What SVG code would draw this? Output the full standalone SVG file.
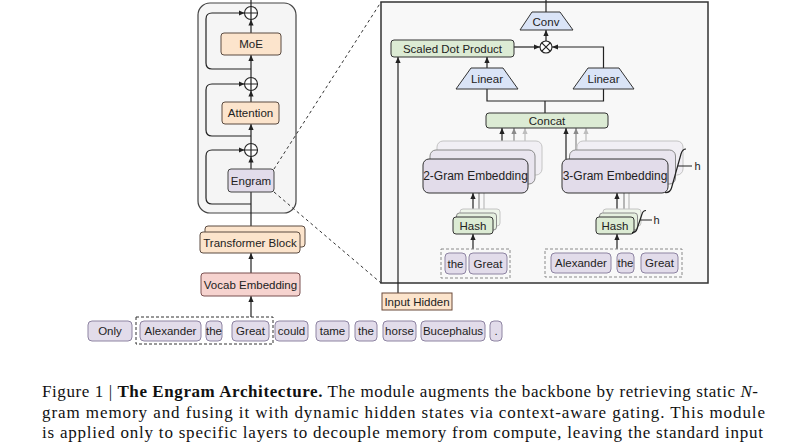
<svg xmlns="http://www.w3.org/2000/svg" width="800" height="445" viewBox="0 0 800 445">
<defs>
<style>
.t{font-family:"Liberation Sans",Arial,sans-serif;font-size:11.5px;fill:#222;text-anchor:middle}
.ln{fill:none;stroke:#222;stroke-width:1.2}
.lg{fill:none;stroke:#8a8a8a;stroke-width:1.2}
.ll{fill:none;stroke:#bdbdbd;stroke-width:1.2}
.org{fill:#fce4cc;stroke:#5a4a40;stroke-width:1}
.pur{fill:#e2dcea;stroke:#444;stroke-width:1}
.tok{fill:#e2dcea;stroke:#8e84a2;stroke-width:1}
.grn{fill:#dcebd4;stroke:#333;stroke-width:1}
.blu{fill:#dae4f7;stroke:#333;stroke-width:1}
.dash{fill:none;stroke:#333;stroke-width:1;stroke-dasharray:3 2}
.cap{font-family:"Liberation Serif","Times New Roman",serif;font-size:17px;fill:#111}
</style>
<marker id="ah" viewBox="0 0 6 6" refX="6" refY="3" markerWidth="6" markerHeight="6" orient="auto" markerUnits="userSpaceOnUse"><path d="M0,0.4 L6,3 L0,5.6 z" fill="#222"/></marker>
<marker id="ahg" viewBox="0 0 6 6" refX="6" refY="3" markerWidth="6" markerHeight="6" orient="auto" markerUnits="userSpaceOnUse"><path d="M0,0.4 L6,3 L0,5.6 z" fill="#8a8a8a"/></marker>
<marker id="ahl" viewBox="0 0 6 6" refX="6" refY="3" markerWidth="6" markerHeight="6" orient="auto" markerUnits="userSpaceOnUse"><path d="M0,0.4 L6,3 L0,5.6 z" fill="#bdbdbd"/></marker>
</defs>
<rect width="800" height="445" fill="#fff"/>

<!-- frames -->
<g id="block-frame"><rect x="198" y="3" width="98" height="210" rx="12" fill="#f5f5f5" stroke="#444" stroke-width="1.2"/></g>
<g id="engram-panel"><rect x="381" y="2" width="327" height="281" fill="#f8f8f8" stroke="#333" stroke-width="1.5"/></g>

<!-- connectors -->
<g id="connectors">
<path class="ln" d="M251 0 L251 6.5"/>
<path class="ln" d="M251 33 L251 19.5" marker-end="url(#ah)"/>
<path class="ln" d="M251 77.5 L251 55" marker-end="url(#ah)"/>
<path class="ln" d="M251 102 L251 90.5" marker-end="url(#ah)"/>
<path class="ln" d="M251 143.5 L251 124" marker-end="url(#ah)"/>
<path class="ln" d="M251 169 L251 156.5" marker-end="url(#ah)"/>
<path class="ln" d="M251 226 L251 192"/>
<path class="ln" d="M251 273 L251 253" marker-end="url(#ah)"/>
<path class="ln" d="M251 317 L251 296" marker-end="url(#ah)"/>
<path class="ln" d="M251 69 L212 69 Q206 69 206 63 L206 19 Q206 13 212 13 L244.5 13" marker-end="url(#ah)"/>
<path class="ln" d="M251 136 L212 136 Q206 136 206 130 L206 90 Q206 84 212 84 L244.5 84" marker-end="url(#ah)"/>
<path class="ln" d="M251 204 L212 204 Q206 204 206 198 L206 156 Q206 150 212 150 L244.5 150" marker-end="url(#ah)"/>
<path d="M274 169 L381 2 M274 192 L381 283" fill="none" stroke="#333" stroke-width="1" stroke-dasharray="3 3"/>
<!-- right panel -->
<path class="ln" d="M546 12 L546 0"/>
<path class="ln" d="M546 41 L546 30" marker-end="url(#ah)"/>
<path class="ln" d="M514 47 L540 47" marker-end="url(#ah)"/>
<path class="ln" d="M603.5 68 L603.5 47 L552 47" marker-end="url(#ah)"/>
<path class="ln" d="M487 68 L487 57" marker-end="url(#ah)"/>
<path class="ln" d="M487 89 L487 101 L603.5 101 L603.5 89 M545 101 L545 113"/>
<path class="ln" d="M398 293 L398 57" marker-end="url(#ah)"/>
<path class="ln" d="M502 159 L502 128" marker-end="url(#ah)"/>
<path class="lg" d="M514 150 L514 128" marker-end="url(#ahg)"/>
<path class="ll" d="M525 141 L525 128" marker-end="url(#ahl)"/>
<path class="ln" d="M566 159 L566 128" marker-end="url(#ah)"/>
<path class="lg" d="M576 150 L576 128" marker-end="url(#ahg)"/>
<path class="ll" d="M586 141 L586 128" marker-end="url(#ahl)"/>
<path class="lg" d="M479 213 L479 193"/>
<path class="ll" d="M484 209 L484 193"/>
<path class="ln" d="M473 217 L473 193" marker-end="url(#ah)"/>
<path class="lg" d="M624 213 L624 193"/>
<path class="ll" d="M629 209 L629 193"/>
<path class="ln" d="M617 217 L617 193" marker-end="url(#ah)"/>
<path class="ln" d="M473 249 L473 234" marker-end="url(#ah)"/>
<path class="ln" d="M617 249 L617 234" marker-end="url(#ah)"/>
</g>

<!-- left column nodes -->
<g id="add1"><circle cx="251" cy="13" r="6.5" fill="#fff" stroke="#222" stroke-width="1.1"/><path class="ln" d="M244.5 13 H257.5 M251 6.5 V19.5" stroke-width="1"/></g>
<g id="add2"><circle cx="251" cy="84" r="6.5" fill="#fff" stroke="#222" stroke-width="1.1"/><path class="ln" d="M244.5 84 H257.5 M251 77.5 V90.5" stroke-width="1"/></g>
<g id="add3"><circle cx="251" cy="150" r="6.5" fill="#fff" stroke="#222" stroke-width="1.1"/><path class="ln" d="M244.5 150 H257.5 M251 143.5 V156.5" stroke-width="1"/></g>
<g id="moe"><rect class="org" x="221" y="33" width="60" height="22" rx="3"/><text class="t" x="251" y="48">MoE</text></g>
<g id="attention"><rect class="org" x="222" y="102" width="57" height="22" rx="3"/><text class="t" x="250.5" y="117">Attention</text></g>
<g id="engram"><rect class="pur" x="228" y="169" width="46" height="23" rx="3"/><text class="t" x="251" y="184.5">Engram</text></g>
<g id="transformer-block"><rect class="org" x="205" y="226" width="100" height="21" rx="3"/><rect class="org" x="200" y="232" width="100" height="21" rx="3"/><text class="t" x="250" y="246.5">Transformer Block</text></g>
<g id="vocab-embedding"><rect x="201" y="273" width="99" height="23" rx="3" fill="#f6d3cf" stroke="#7a5050"/><text class="t" x="250.5" y="288.5">Vocab Embedding</text></g>

<!-- token row -->
<g id="tokens">
<rect class="dash" x="136" y="317" width="137" height="27"/>
<rect class="tok" x="88" y="321" width="44" height="20" rx="4"/><text class="t" x="110" y="335">Only</text>
<rect class="tok" x="140" y="321" width="61" height="20" rx="4"/><text class="t" x="170.5" y="335">Alexander</text>
<rect class="tok" x="206" y="321" width="16" height="20" rx="4"/><text class="t" x="214" y="335">the</text>
<rect class="tok" x="232" y="321" width="37" height="20" rx="4"/><text class="t" x="250.5" y="335">Great</text>
<rect class="tok" x="275" y="321" width="33" height="20" rx="4"/><text class="t" x="291.5" y="335">could</text>
<rect class="tok" x="316" y="321" width="33" height="20" rx="4"/><text class="t" x="332.5" y="335">tame</text>
<rect class="tok" x="355" y="321" width="22" height="20" rx="4"/><text class="t" x="366" y="335">the</text>
<rect class="tok" x="383" y="321" width="33" height="20" rx="4"/><text class="t" x="399.5" y="335">horse</text>
<rect class="tok" x="421" y="321" width="64" height="20" rx="4"/><text class="t" x="453" y="335">Bucephalus</text>
<rect class="tok" x="490" y="321" width="12" height="20" rx="4"/><text class="t" x="496" y="335">.</text>
</g>

<!-- right panel nodes -->
<g id="conv"><polygon class="blu" points="532,12 560,12 573,30 520,30"/><text class="t" x="546" y="25.5">Conv</text></g>
<g id="gate"><circle cx="546" cy="47" r="6" fill="#fff" stroke="#222" stroke-width="1.1"/><path class="ln" d="M541.8 42.8 L550.2 51.2 M550.2 42.8 L541.8 51.2" stroke-width="1"/></g>
<g id="scaled-dot-product"><rect class="grn" x="391" y="40" width="123" height="17" rx="3"/><text class="t" x="452.5" y="52.5">Scaled Dot Product</text></g>
<g id="linear-left"><polygon class="blu" points="471,68 503,68 518,89 456,89"/><text class="t" x="487" y="82.5">Linear</text></g>
<g id="linear-right"><polygon class="blu" points="588,68 619,68 634,89 573,89"/><text class="t" x="603.5" y="82.5">Linear</text></g>
<g id="concat"><rect class="grn" x="486" y="113" width="122" height="15" rx="3"/><text class="t" x="547" y="124.5">Concat</text></g>

<g id="embedding-2gram">
<rect x="437" y="141" width="105" height="34" rx="6" fill="#f1eff4" stroke="#c4c4c4"/>
<rect x="430" y="150" width="105" height="34" rx="6" fill="#e9e5ef" stroke="#8a8a8a"/>
<rect x="423" y="159" width="105" height="34" rx="6" fill="#e2dcea" stroke="#333"/>
<text class="t" x="475.5" y="180" style="font-size:12px">2-Gram Embedding</text>
</g>
<g id="embedding-3gram">
<rect x="577" y="141" width="106" height="34" rx="6" fill="#f1eff4" stroke="#c4c4c4"/>
<rect x="569.5" y="150" width="106" height="34" rx="6" fill="#e9e5ef" stroke="#8a8a8a"/>
<rect x="562" y="159" width="106" height="34" rx="6" fill="#e2dcea" stroke="#333"/>
<text class="t" x="615" y="180" style="font-size:12px">3-Gram Embedding</text>
<path class="ln" d="M665 192.5 Q670 193 671.5 188 L681 154 Q682.5 149 686 149 M677.5 166 L692 166" stroke-width="1"/>
<text class="t" x="697.5" y="169.5" style="font-size:11px">h</text>
</g>
<g id="hash-2gram">
<rect x="460" y="209" width="40" height="17" rx="3" fill="#eef5ea" stroke="#c4c4c4"/>
<rect x="456.5" y="213" width="40" height="17" rx="3" fill="#e5f0df" stroke="#8a8a8a"/>
<rect class="grn" x="453" y="217" width="40" height="17" rx="3"/>
<text class="t" x="473" y="229.5">Hash</text>
</g>
<g id="hash-3gram">
<rect x="603" y="209" width="38" height="17" rx="3" fill="#eef5ea" stroke="#c4c4c4"/>
<rect x="599.5" y="213" width="38" height="17" rx="3" fill="#e5f0df" stroke="#8a8a8a"/>
<rect class="grn" x="596" y="217" width="38" height="17" rx="3"/>
<text class="t" x="615" y="229.5">Hash</text>
<path class="ln" d="M632 232.5 Q636 232.5 637 229 L642 214 Q643 210.5 646 210.5 M640 220 L652 220" stroke-width="1"/>
<text class="t" x="656.5" y="224" style="font-size:11px">h</text>
</g>
<g id="tokens-2gram">
<rect class="dash" x="441" y="249" width="69" height="29" style="stroke:#8a8a8a"/>
<rect class="tok" x="445" y="253" width="21" height="21" rx="4"/><text class="t" x="455.5" y="267.5">the</text>
<rect class="tok" x="469" y="253" width="38" height="21" rx="4"/><text class="t" x="488" y="267.5">Great</text>
</g>
<g id="tokens-3gram">
<rect class="dash" x="545" y="249" width="137" height="28" style="stroke:#8a8a8a"/>
<rect class="tok" x="551" y="253" width="60" height="20" rx="4"/><text class="t" x="581" y="267">Alexander</text>
<rect class="tok" x="617" y="253" width="17" height="20" rx="4"/><text class="t" x="625.5" y="267">the</text>
<rect class="tok" x="641" y="253" width="37" height="20" rx="4"/><text class="t" x="659.5" y="267">Great</text>
</g>
<g id="input-hidden"><rect x="382" y="293" width="70" height="17" fill="#fce4cc" stroke="#6b4a3a"/><text class="t" x="417" y="305.5">Input Hidden</text></g>

<!-- caption -->
<g id="caption">
<text class="cap" x="42" y="397" textLength="716" lengthAdjust="spacing">Figure 1 | <tspan font-weight="bold">The Engram Architecture.</tspan> The module augments the backbone by retrieving static <tspan font-style="italic">N</tspan>-</text>
<text class="cap" x="42" y="417.5" textLength="723" lengthAdjust="spacing">gram memory and fusing it with dynamic hidden states via context-aware gating. This module</text>
<text class="cap" x="42" y="438" textLength="721" lengthAdjust="spacing">is applied only to specific layers to decouple memory from compute, leaving the standard input</text>
</g>
</svg>
